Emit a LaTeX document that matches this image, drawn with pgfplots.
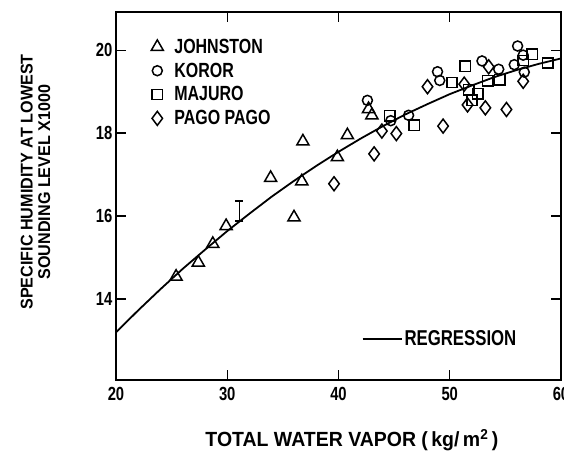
\documentclass[border=0pt]{standalone}
\usepackage{fontspec}
\setmainfont{Liberation Sans Bold}[FakeStretch=0.78]
\newfontfamily\labfont{Liberation Sans Bold}[FakeStretch=0.95]
\usepackage{pgfplots}
\pgfplotsset{compat=1.18}
\begin{document}
\begin{tikzpicture}
\useasboundingbox (-116pt,-74pt) rectangle (448pt,380pt);
\begin{axis}[at={(0pt,0pt)}, anchor=south west, scale only axis,
  width=445pt, height=368pt,
  xmin=20, xmax=60, ymin=12.05, ymax=20.92,
  xtick={20,30,40,50,60}, ytick={14,16,18,20},
  tick align=inside, major tick length=10pt,
  axis line style={line width=1.6pt},
  tick style={line width=1.3pt, black},
  /pgf/number format/assume math mode=true,
  ticklabel style={font=\fontsize{19}{19}\selectfont},
  xticklabel style={yshift=-4pt},
  xlabel={TOTAL WATER VAPOR (\,kg/\,m\textsuperscript{2}\,)},
  xlabel style={font=\labfont\fontsize{20.5}{20.5}\selectfont, at={(axis description cs:0.53,0)}, anchor=center, yshift=-60pt},
  ylabel={SPECIFIC HUMIDITY AT LOWEST\\SOUNDING LEVEL X1000},
  ylabel style={font=\labfont\fontsize{17}{17.5}\selectfont, align=center, at={(axis description cs:-0.181,0.538)}, anchor=center},
  legend style={draw=none, fill=none, at={(axis description cs:0.072,0.938)}, anchor=north west,
    font=\fontsize{20.5}{20.5}\selectfont, row sep=4pt, column sep=9pt},
  legend cell align=left,
  every axis plot/.append style={line width=1.5pt},
]
\addplot[only marks, mark=triangle, mark size=7pt, black] coordinates {
(25.4,14.54) (27.4,14.88) (28.7,15.33) (29.9,15.76) (33.9,16.92) (36.0,15.97)
(36.7,16.84) (36.8,17.8) (39.9,17.42) (40.8,17.95) (42.7,18.58) (43.0,18.43)};
\addlegendentry{JOHNSTON}
\addplot[only marks, mark=o, mark size=5pt, black] coordinates {
(42.6,18.79) (44.7,18.3) (46.3,18.43) (48.9,19.48) (49.1,19.27) (52.9,19.74)
(54.4,19.54) (55.8,19.65) (56.1,20.1) (56.6,19.88) (56.7,19.47)};
\addlegendentry{KOROR}
\addplot[only marks, mark=square, mark size=5.2pt, black] coordinates {
(44.6,18.42) (46.8,18.19) (50.2,19.22) (51.4,19.61) (51.7,19.05) (52.0,18.79)
(52.5,18.95) (53.4,19.26) (54.5,19.29) (56.6,19.75) (57.4,19.9) (58.8,19.69)};
\addlegendentry{MAJURO}
\addplot[only marks, mark=diamond, mark size=7pt, black] coordinates {
(39.6,16.78) (43.2,17.5) (43.9,18.05) (45.2,17.99) (48.0,19.12) (49.4,18.17)
(51.3,19.18) (51.6,18.68) (53.2,18.61) (53.5,19.6) (55.1,18.57) (56.6,19.25)};
\addlegendentry{PAGO PAGO}
\addplot[black, line width=1.8pt, no marks, forget plot] coordinates {
(20,13.2) (22,13.73) (24,14.24) (26,14.73) (28,15.19) (30,15.64) (32,16.06)
(34,16.47) (36,16.85) (38,17.21) (40,17.55) (42,17.87) (44,18.17) (46,18.45)
(48,18.70) (50,18.94) (52,19.15) (54,19.35) (56,19.52) (58,19.67) (60,19.80)};
\addplot[draw=none, no marks, forget plot,
  error bars/.cd, y dir=both, y explicit,
  error bar style={draw=black, line width=1.6pt},
  error mark options={rotate=90, draw=black, mark size=4pt, line width=1.4pt}]
  coordinates {(31.1,16.12) +- (0,0.24)};
\end{axis}
\begin{axis}[at={(0pt,0pt)}, anchor=south west, scale only axis,
  width=445pt, height=368pt, hide axis,
  xmin=0, xmax=1, ymin=0, ymax=1,
  legend style={draw=none, fill=none, at={(axis description cs:0.545,0.111)}, anchor=west,
    font=\fontsize{21.5}{21.5}\selectfont},
]
\addlegendimage{legend image code/.code={\draw[black, line width=1.8pt] (0pt,0pt) -- (39pt,0pt);}}
\addlegendentry{REGRESSION}
\end{axis}
\end{tikzpicture}
\end{document}
